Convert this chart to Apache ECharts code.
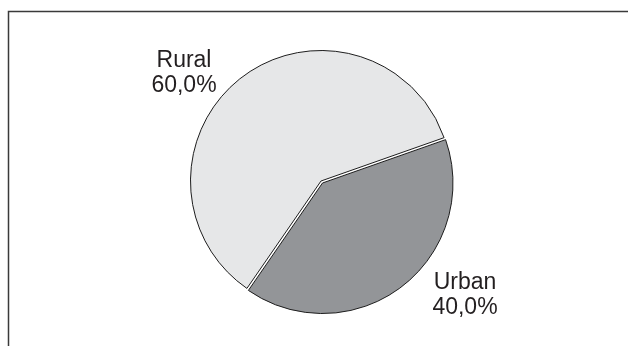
<!DOCTYPE html>
<html>
<head>
<meta charset="utf-8">
<script src="https://cdn.jsdelivr.net/npm/echarts@6/dist/echarts.min.js"></script>
<style>
  html, body { margin: 0; padding: 0; background: #ffffff; }
  #chart { width: 628px; height: 346px; }
</style>
</head>
<body>
<div id="chart"></div>
<script>
// Population share by area type
const categories = ['Urban', 'Rural'];
const shares = [40.0, 60.0];
const sliceColors = ['#939598', '#e6e7e8'];

// Label anchor points (top centre of each two-line label block)
const labelAnchors = [
  { x: 465, y: 270 },
  { x: 184, y: 48 }
];

// The Urban wedge is pulled slightly out of the pie, leaving a thin white seam
const pieCenter = [321, 181];
const pullOut = [1.5, 2.0];

const chart = echarts.init(document.getElementById('chart'), null, { renderer: 'canvas' });

const fmt = v => v.toFixed(1).replace('.', ',') + '%';

// One pie layer per visible slice; the other slice is kept as an invisible spacer
function pieLayer(visibleIndex, center) {
  return {
    type: 'pie',
    center: center,
    radius: [0, 130.5],
    startAngle: 19.4,
    clockwise: true,
    silent: true,
    avoidLabelOverlap: false,
    emphasis: { disabled: true },
    label: {
      position: 'outside',
      formatter: p => p.name + '\n' + fmt(p.value),
      fontFamily: 'Liberation Sans',
      fontSize: 23,
      lineHeight: 25,
      color: '#231f20',
      align: 'center'
    },
    labelLine: { show: false },
    labelLayout: p => ({
      x: labelAnchors[p.dataIndex].x,
      y: labelAnchors[p.dataIndex].y,
      align: 'center',
      verticalAlign: 'top'
    }),
    data: categories.map((c, i) => {
      const shown = i === visibleIndex;
      return {
        name: c,
        value: shares[i],
        label: { show: shown },
        itemStyle: shown
          ? { color: sliceColors[i], borderColor: '#1e1e1e', borderWidth: 1 }
          : { color: 'transparent', borderWidth: 0 }
      };
    })
  };
}

chart.setOption({
  backgroundColor: '#ffffff',
  animation: false,
  graphic: [{
    type: 'polyline',
    silent: true,
    shape: { points: [[8.5, 400], [8.5, 11.5], [700, 11.5]] },
    style: { stroke: '#3a3a3a', lineWidth: 1.5, fill: null }
  }],
  series: [
    pieLayer(1, pieCenter),
    pieLayer(0, [pieCenter[0] + pullOut[0], pieCenter[1] + pullOut[1]])
  ]
});
</script>
</body>
</html>
